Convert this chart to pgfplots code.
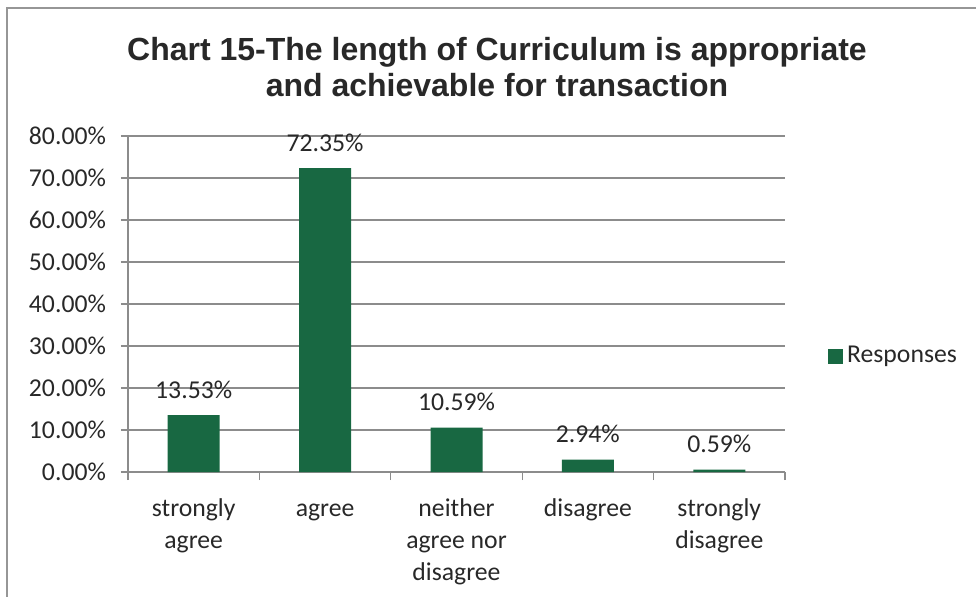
\documentclass[border=0pt]{standalone}
\usepackage{fontspec}
\setmainfont{Carlito}
\newfontfamily\titlefont{Liberation Sans}
\usepackage{pgfplots}
\pgfplotsset{compat=1.18}
\definecolor{barGreen}{RGB}{24,104,66}
\definecolor{gridGray}{RGB}{140,140,140}
\definecolor{txtGray}{RGB}{40,40,40}
\definecolor{frameGray}{RGB}{150,150,150}

\begin{document}
\begin{tikzpicture}
% page is 976x596 px, 1 px = 0.5pt
\path[use as bounding box] (0,0) rectangle (488pt,298pt);
\draw[frameGray, line width=0.8pt] (3.5pt,-2pt) -- (3.5pt,294pt) -- (490pt,294pt);

\node[font=\titlefont\bfseries\fontsize{16}{19}\selectfont, text=txtGray] at (248.5pt,272pt) {Chart 15-The length of Curriculum is appropriate};
\node[font=\titlefont\bfseries\fontsize{16}{19}\selectfont, text=txtGray] at (248.5pt,255.5pt) {and achievable for transaction};

\begin{axis}[
  at={(64pt,62pt)}, anchor=south west,
  scale only axis, width=328.5pt, height=168pt,
  ybar, bar width=26pt,
  xmin=0.5, xmax=5.5, ymin=0, ymax=80,
  axis x line*=bottom, axis y line*=left,
  axis line style={draw=gridGray, line width=0.6pt},
  ytick={0,10,...,80},
  yticklabels={0.00\%,10.00\%,20.00\%,30.00\%,40.00\%,50.00\%,60.00\%,70.00\%,80.00\%},
  ytick align=outside, major tick length=3.5pt,
  ytick style={draw=gridGray, line width=0.6pt},
  yticklabel style={font=\fontsize{12.85}{16}\selectfont, text=txtGray, xshift=-4pt},
  ymajorgrids, grid style={draw=gridGray, line width=0.6pt},
  xtick={1,2,3,4,5},
  xticklabels={{\strut strongly\\agree},{\strut agree},{\strut neither\\agree nor\\disagree},{\strut disagree},{\strut strongly\\disagree}},
  xtick style={draw=none},
  xticklabel style={font=\fontsize{12.85}{16}\selectfont, text=txtGray, align=center, yshift=-4pt},
  extra x ticks={0.5,1.5,2.5,3.5,4.5,5.5},
  extra x tick labels={},
  extra x tick style={xtick style={draw=gridGray, line width=0.6pt}, xtick align=outside, major tick length=4pt},
  nodes near coords={\pgfmathprintnumber[fixed,fixed zerofill,precision=2,assume math mode=true]{\pgfplotspointmeta}\%},
  nodes near coords style={font=\fontsize{12.85}{16}\selectfont, text=txtGray, anchor=south, yshift=4.7pt},
  legend style={at={(1.065,0.345)}, anchor=west, draw=none, fill=none,
                font=\fontsize{12.85}{16}\selectfont, text=txtGray, inner sep=0pt},
  legend image code/.code={\fill[barGreen] (0pt,-3.75pt) rectangle (7.5pt,3.75pt);},
]
\addplot[fill=barGreen, draw=none]
  coordinates {(1,13.53) (2,72.35) (3,10.59) (4,2.94) (5,0.59)};
\addlegendentry{Responses}
\end{axis}
\end{tikzpicture}
\end{document}
